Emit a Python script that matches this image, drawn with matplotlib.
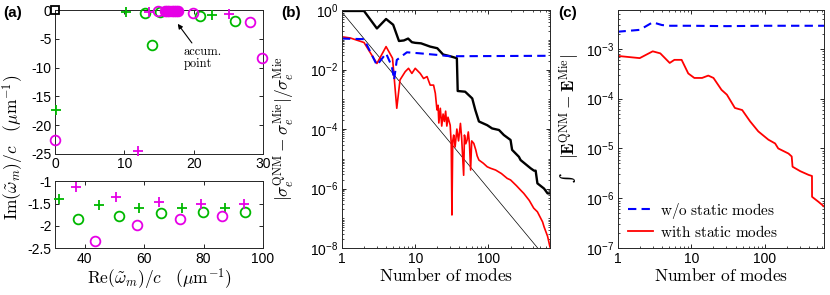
import matplotlib
matplotlib.use('Agg')
import matplotlib.pyplot as plt
import numpy as np
from matplotlib.ticker import LogLocator, NullFormatter

# ---------------- data ----------------
# (a) top: complex eigenfrequencies Re/c, Im/c (1/um)
top_gp_re = [10.2, 22.6, 0.15]
top_gp_im = [-0.3, -0.86, -17.4]
top_go_re = [13.0, 14.0, 15.2, 20.9, 25.9]
top_go_im = [-0.57, -6.1, -0.4, -1.0, -1.84]
top_mp_re = [13.6, 25.1, 12.0]
top_mp_im = [-0.3, -0.7, -24.4]
top_mo_re = [14.8, 19.9, 28.1, 29.8, 0.0]
top_mo_im = [-0.17, -0.46, -2.0, -8.3, -22.6]
accum_re = [15.9, 16.2, 16.5, 16.8, 17.1, 17.4, 17.7]
accum_im = [-0.1, -0.1, -0.1, -0.1, -0.1, -0.1, -0.1]
static_re = [0.0]
static_im = [0.0]

# (a) bottom
bot_gp_re = [31.4, 44.9, 58.4, 72.8, 87.1]
bot_gp_im = [-1.39, -1.53, -1.59, -1.60, -1.61]
bot_mp_re = [37.1, 50.6, 64.9, 79.2, 93.5]
bot_mp_im = [-1.13, -1.36, -1.46, -1.50, -1.52]
bot_go_re = [37.6, 51.5, 65.5, 79.8, 94.1]
bot_go_im = [-1.85, -1.77, -1.72, -1.68, -1.68]
bot_mo_re = [43.3, 57.5, 72.2, 86.3]
bot_mo_im = [-2.33, -1.98, -1.85, -1.77]

# (b) relative error of extinction cross section
b_black_n = [1, 2, 3, 4, 5, 6, 7, 8, 9, 10, 12, 16, 20, 24, 30, 37, 38, 48, 60, 66,
             74, 96, 112, 139, 162, 200, 210, 222, 260, 274, 376, 418, 440, 465, 573, 640, 690]
b_black_y = [0.93, 0.93, 0.24, 0.50, 0.32, 0.091, 0.095, 0.11, 0.083, 0.079, 0.076, 0.059,
             0.052, 0.032, 0.028, 0.024, 1.9e-3, 1.8e-3, 1.07e-3, 4.4e-4, 1.8e-4, 1.35e-4,
             1.05e-4, 9.3e-5, 6.3e-5, 4.3e-5, 2.0e-5, 1.74e-5, 1.17e-5, 9.1e-6, 4.8e-6,
             4.0e-6, 4.0e-6, 1.5e-6, 1.0e-6, 6.9e-7, 6.9e-7]
b_blue_n = [1, 2, 3, 4, 4.8, 5.15, 5.6, 7.7, 11.7, 20, 30, 690]
b_blue_y = [0.11, 0.105, 0.014, 0.035, 0.0126, 4.5e-3, 0.021, 0.038, 0.035, 0.031, 0.028, 0.029]
b_red_n = [1, 1.3, 2, 3, 4, 4.9, 5.6, 6.2, 7.3, 8.1, 9, 10, 11.7, 13, 14.5, 16, 17.8, 18.8,
           19.8, 20.5, 21, 22, 23, 24, 25, 26, 27, 28, 30, 31, 31.7, 32.5, 33.5, 35, 37, 39,
           41.4, 43, 45.8, 47, 49, 51, 53, 55, 57, 59, 63, 67, 70, 74, 85, 96, 107, 125,
           150, 180, 200, 240, 274, 303, 360, 414, 465, 547, 573, 640, 690]
b_red_y = [0.126, 0.115, 0.081, 0.016, 0.059, 0.024, 5e-4, 4.5e-3, 8.5e-3, 0.011, 7.4e-3,
           0.011, 7.4e-3, 5e-3, 5.8e-3, 3e-3, 3e-3, 1.6e-3, 4.4e-4, 6.3e-4, 1.6e-4, 5e-4,
           1.26e-4, 3.2e-4, 1.8e-4, 4e-4, 1.26e-4, 2.5e-4, 1.35e-4, 3.2e-5, 1.3e-7, 4e-5,
           6.3e-5, 2.5e-5, 1e-4, 4e-5, 1.55e-4, 5e-5, 2.8e-6, 6.3e-5, 3.2e-5, 4.3e-5, 8e-5,
           3.2e-5, 4.2e-6, 4e-5, 3.3e-5, 2e-5, 1.26e-5, 9.1e-6, 7.1e-6, 5.4e-6, 4.8e-6,
           4.2e-6, 3.2e-6, 2.2e-6, 1.95e-6, 1.26e-6, 8.9e-7, 6.9e-7, 4e-7, 2.2e-7, 1.66e-7,
           7.6e-8, 5.2e-8, 2.5e-8, 1.1e-8]
b_ref_n = [1, 470]
b_ref_y = [0.85, 1e-8]

# (c) integrated field error
c_blue_n = [1, 2, 3, 4, 5, 10, 30, 100, 634]
c_blue_y = [2.2e-3, 2.4e-3, 3.4e-3, 3.0e-3, 2.9e-3, 2.9e-3, 2.85e-3, 2.9e-3, 2.9e-3]
c_red_n = [1, 2, 3, 3.8, 5.1, 5.9, 7.4, 9.1, 11, 14, 17, 20, 25.7, 30.4, 39, 49, 62.7,
           81, 111, 137, 151, 208, 230, 236, 300, 389, 433, 434, 530, 634]
c_red_y = [7.2e-4, 6.5e-4, 8.9e-4, 8.1e-4, 5.2e-4, 6.0e-4, 6.0e-4, 3.2e-4, 2.6e-4,
           2.6e-4, 2.9e-4, 2.6e-4, 1.5e-4, 1.2e-4, 6.5e-5, 5.9e-5, 3.5e-5, 2.2e-5,
           1.5e-5, 1.26e-5, 1.0e-5, 7.9e-6, 6.9e-6, 4.3e-6, 3.5e-6, 2.95e-6, 2.8e-6,
           1.07e-6, 8.5e-7, 6.8e-7]

# ---------------- style ----------------
green = '#00b800'
magenta = '#e600e6'
tick_size = 10
label_size = 12.5
plt.rcParams.update({
    'font.family': ['Liberation Sans', 'DejaVu Sans'],
    'font.size': tick_size,
    'mathtext.fontset': 'cm',
    'mathtext.rm': 'Liberation Sans',
    'mathtext.it': 'Liberation Sans:italic',
    'mathtext.bf': 'Liberation Sans:bold',
    'axes.unicode_minus': False,
    'axes.linewidth': 0.7,
    'axes.edgecolor': '#262626',
    'xtick.direction': 'in',
    'ytick.direction': 'in',
    'xtick.top': True,
    'ytick.right': True,
    'xtick.major.size': 3,
    'ytick.major.size': 3,
    'xtick.minor.size': 1.6,
    'ytick.minor.size': 1.6,
    'xtick.major.width': 0.6,
    'ytick.major.width': 0.6,
    'xtick.minor.width': 0.5,
    'ytick.minor.width': 0.5,
    'xtick.major.pad': 2.5,
    'ytick.major.pad': 2.5,
})

fig = plt.figure(figsize=(8.3, 2.95), dpi=100)
ax_top = fig.add_axes([0.0663, 0.478, 0.2506, 0.488])
ax_bot = fig.add_axes([0.0663, 0.158, 0.2506, 0.228])
ax_b = fig.add_axes([0.412, 0.159, 0.2506, 0.807])
ax_c = fig.add_axes([0.744, 0.159, 0.249, 0.807])

mk = dict(linestyle='none', markersize=7, markeredgewidth=1.3, clip_on=False, zorder=3)

# (a) top
ax_top.plot(top_gp_re, top_gp_im, marker='+', color=green, **mk)
ax_top.plot(top_go_re, top_go_im, marker='o', color=green, markerfacecolor='none', **mk)
ax_top.plot(top_mp_re, top_mp_im, marker='+', color=magenta, **mk)
ax_top.plot(top_mo_re, top_mo_im, marker='o', color=magenta, markerfacecolor='none', **mk)
ax_top.plot(accum_re, accum_im, marker='o', color=magenta, markerfacecolor=magenta, **mk)
ax_top.plot(static_re, static_im, marker='s', color='black', markerfacecolor='none',
            linestyle='none', markersize=5.5, markeredgewidth=1.3, clip_on=False, zorder=4)
ax_top.annotate('accum.\npoint', xy=(17.7, -2.4), xytext=(18.6, -6.2),
                fontsize=9, family='cmr10', va='top', ha='left', linespacing=1.05,
                arrowprops=dict(arrowstyle='-|>', color='black', lw=0.8,
                                shrinkA=0, shrinkB=0, mutation_scale=7))
ax_top.set_xlim(0, 30)
ax_top.set_ylim(-25, 0)
ax_top.set_xticks([0, 10, 20, 30])
ax_top.set_yticks([0, -5, -10, -15, -20, -25])

# (a) bottom
ax_bot.plot(bot_gp_re, bot_gp_im, marker='+', color=green, **mk)
ax_bot.plot(bot_go_re, bot_go_im, marker='o', color=green, markerfacecolor='none', **mk)
ax_bot.plot(bot_mp_re, bot_mp_im, marker='+', color=magenta, **mk)
ax_bot.plot(bot_mo_re, bot_mo_im, marker='o', color=magenta, markerfacecolor='none', **mk)
ax_bot.set_xlim(30, 100)
ax_bot.set_ylim(-2.5, -1)
ax_bot.set_xticks([40, 60, 80, 100])
ax_bot.set_yticks([-1, -1.5, -2, -2.5])
ax_bot.set_yticklabels(['-1', '-1.5', '-2', '-2.5'])
ax_bot.set_xlabel(r'$\mathrm{Re}(\tilde{\omega}_m)/c\ \ \ (\mu\mathrm{m}^{-1})$',
                  fontsize=label_size, labelpad=1)
fig.text(0.016, 0.5, r'$\mathrm{Im}(\tilde{\omega}_m)/c\ \ \ (\mu\mathrm{m}^{-1})$',
         rotation=90, ha='center', va='center', fontsize=label_size)


def log_labels(ax, exps):
    ax.set_yticks([10.0 ** e for e in exps])
    ax.set_yticklabels([r'$\mathrm{10^{%d}}$' % e for e in exps],
                       math_fontfamily='custom', fontsize=tick_size)
    ax.yaxis.set_minor_locator(LogLocator(base=10, subs=np.arange(1, 10), numticks=50))
    ax.yaxis.set_minor_formatter(NullFormatter())
    ax.set_xticks([1, 10, 100])
    ax.set_xticklabels(['1', '10', '100'])
    ax.xaxis.set_minor_locator(LogLocator(base=10, subs=np.arange(2, 10), numticks=50))
    ax.xaxis.set_minor_formatter(NullFormatter())


# (b)
ax_b.plot(b_ref_n, b_ref_y, color='black', lw=0.5)
ax_b.plot(b_black_n, b_black_y, color='black', lw=1.7)
ax_b.plot(b_red_n, b_red_y, color='red', lw=1.2)
ax_b.plot(b_blue_n, b_blue_y, color='blue', lw=1.5, linestyle=(0, (4, 2.5)))
ax_b.set_xscale('log')
ax_b.set_yscale('log')
ax_b.set_xlim(1, 690)
ax_b.set_ylim(1e-8, 1)
log_labels(ax_b, [0, -2, -4, -6, -8])
ax_b.set_xlabel(r'$\mathrm{Number\ of\ modes}$', fontsize=label_size, labelpad=1)
ax_b.set_ylabel(r'$|\sigma_e^{\mathrm{QNM}}-\sigma_e^{\mathrm{Mie}}|/\sigma_e^{\mathrm{Mie}}$',
                fontsize=label_size)
ax_b.yaxis.set_label_coords(-0.215, 0.5)

# (c)
ax_c.plot(c_blue_n, c_blue_y, color='blue', lw=1.5, linestyle=(0, (4, 2.5)),
          label=r'$\mathrm{w/o\ static\ modes}$')
ax_c.plot(c_red_n, c_red_y, color='red', lw=1.3, label=r'$\mathrm{with\ static\ modes}$')
ax_c.set_xscale('log')
ax_c.set_yscale('log')
ax_c.set_xlim(1, 634)
ax_c.set_ylim(1e-7, 6e-3)
log_labels(ax_c, [-3, -4, -5, -6, -7])
ax_c.set_xlabel(r'$\mathrm{Number\ of\ modes}$', fontsize=label_size, labelpad=1)
# y label of (c): integral sign + field difference
fig.text(0.6935, 0.638, r'$|\mathbf{E}^{\mathrm{QNM}}-\mathbf{E}^{\mathrm{Mie}}|$',
         rotation=90, rotation_mode='anchor', ha='center', va='baseline',
         fontsize=label_size)
fig.text(0.6845, 0.398, '\u222b', family='DejaVu Serif', rotation=90,
         ha='center', va='center', fontsize=12.5)
ax_c.legend(loc='lower left', bbox_to_anchor=(0.0, -0.01), frameon=False, fontsize=11,
            handlelength=1.6, handletextpad=0.45, labelspacing=0.2, borderaxespad=0.3)

for lab, x in [('(a)', 0.004), ('(b)', 0.339), ('(c)', 0.673)]:
    fig.text(x, 0.957, lab, fontsize=11, fontweight='bold', va='center', ha='left')

fig.savefig('out.png', dpi=100)
